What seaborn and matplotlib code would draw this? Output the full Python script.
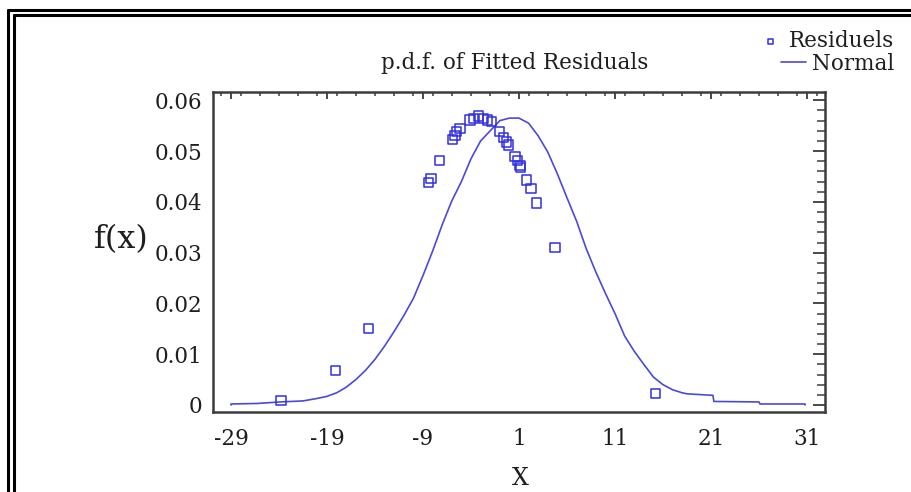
"""p.d.f. of fitted residuals vs. fitted normal curve."""
import matplotlib
matplotlib.use("Agg")
import matplotlib.pyplot as plt
from matplotlib.lines import Line2D
from matplotlib.ticker import MultipleLocator
import seaborn as sns

# Fitted normal curve (tails are stepped)
normal_x = [-29, -29, -26.3, -23.9, -21.5, -20, -19, -18, -17, -16, -15, -14, -13, -12,
            -11, -10, -9, -8, -7, -6, -5, -4, -3, -2, -1, 0, 1, 2, 3, 4, 5, 6, 7, 8,
            9, 10, 11, 12, 13, 14, 15, 16, 17, 18, 18.5, 21.2, 21.3, 26.0, 26.1, 30.8, 30.8]
normal_y = [0.0, 0.0002, 0.0003, 0.0006, 0.0008, 0.0013, 0.0017, 0.0024, 0.0035, 0.0050,
            0.0068, 0.0090, 0.0116, 0.0145, 0.0176, 0.0210, 0.0255, 0.0303, 0.0355, 0.0402,
            0.0440, 0.0485, 0.0520, 0.0540, 0.0560, 0.0565, 0.0565, 0.0555, 0.0530, 0.0498,
            0.0455, 0.0408, 0.0362, 0.0308, 0.0262, 0.0220, 0.0180, 0.0136, 0.0106, 0.0080,
            0.0055, 0.0040, 0.0030, 0.0024, 0.0022, 0.0019, 0.0007, 0.0006, 0.0002, 0.0002, 0.0]

# Empirical density of the residuals
resid_x = [-23.8, -18.1, -14.7, -8.45, -8.17, -7.3, -5.95, -5.67, -5.5, -5.15, -4.1, -3.76,
           -3.24, -2.72, -2.3, -1.84, -1.05, -0.64, -0.28, -0.11, 0.58, 0.82, 1.1, 1.18,
           1.8, 2.25, 2.84, 4.75, 15.2]
resid_y = [0.0009, 0.0068, 0.0150, 0.0438, 0.0446, 0.0481, 0.0523, 0.0531, 0.0538, 0.0545,
           0.0561, 0.0564, 0.0569, 0.0564, 0.0561, 0.0558, 0.0538, 0.0527, 0.0518, 0.0512,
           0.0490, 0.0482, 0.0472, 0.0468, 0.0443, 0.0427, 0.0398, 0.0310, 0.0023]

x_ticks = [-29, -19, -9, 1, 11, 21, 31]
y_ticks = [0, 0.01, 0.02, 0.03, 0.04, 0.05, 0.06]
y_tick_labels = ["0", "0.01", "0.02", "0.03", "0.04", "0.05", "0.06"]

BLUE_LINE = "#4a4ad6"
BLUE_MARK = "#2f2fe0"
SPINE = "#3c3c3c"
TEXT = "#1e1e1e"

sns.set_style("white")
plt.rcParams["font.family"] = ["DejaVu Serif"]

W, H = 911, 492
fig = plt.figure(figsize=(W / 100, H / 100), dpi=100)
ax = fig.add_axes([213 / W, 1 - 411.7 / H, 612 / W, 320 / H])

sns.lineplot(x=normal_x, y=normal_y, sort=False, estimator=None, ax=ax,
             color=BLUE_LINE, linewidth=1.2, label="Normal", zorder=2)
sns.scatterplot(x=resid_x, y=resid_y, ax=ax, marker="s", s=45,
                facecolor="none", edgecolor=BLUE_MARK, linewidth=1.1,
                label="Residuels", zorder=3)

ax.set_xlim(-30.875, 32.875)
ax.set_ylim(-0.00132, 0.0617)
ax.set_xticks(x_ticks)
ax.set_xticklabels([str(t) for t in x_ticks])
ax.set_yticks(y_ticks)
ax.set_yticklabels(y_tick_labels)
ax.xaxis.set_minor_locator(MultipleLocator(2))
ax.yaxis.set_minor_locator(MultipleLocator(0.002))

ax.tick_params(axis="both", which="both", direction="in", colors=SPINE,
               top=True, right=True, labelsize=15.5, labelcolor=TEXT)
ax.tick_params(axis="x", which="major", length=5, width=1.3, pad=12)
ax.tick_params(axis="x", which="minor", length=3, width=1.1)
ax.tick_params(axis="y", which="major", length=9, width=1.3, pad=8)
ax.tick_params(axis="y", which="minor", length=6, width=1.1)
for sp in ax.spines.values():
    sp.set_visible(True)
    sp.set_color(SPINE)
    sp.set_linewidth(1.8)

ax.set_xlabel("X", fontsize=17, color=TEXT)
ax.xaxis.label.set_va("baseline")
ax.xaxis.set_label_coords(0.5016, -0.229)
ax.set_ylabel("f(x)", fontsize=23, rotation=0, color=TEXT, ha="center", va="center")
ax.yaxis.set_label_coords(-0.150, 0.537)

fig.text(515 / W, 1 - 63 / H, "p.d.f. of Fitted Residuals", fontsize=15.5,
         ha="center", va="center", color=TEXT)

# two right-aligned legend rows, as in the original
handles, labels = ax.get_legend_handles_labels()
ax.get_legend().remove()
rows = [("Residuels", 1 - 30 / H), ("Normal", 1 - 53 / H)]
legs = []
for name, top in rows:
    h = handles[labels.index(name)]
    leg = ax.legend([h], [name], loc="upper right", bbox_to_anchor=(894 / W, top),
                    bbox_transform=fig.transFigure, frameon=False, fontsize=15.5,
                    handlelength=1.2, handletextpad=0.25, borderpad=0, borderaxespad=0,
                    markerscale=0.55, labelcolor=TEXT)
    legs.append(leg)
ax.add_artist(legs[0])

# double frame around the picture (top and left edges are visible)
for off, lw in ((8.0, 2.2), (13.5, 2.2)):
    fig.add_artist(Line2D([off / W, off / W], [0, 1 - (off + 1.5) / H],
                          transform=fig.transFigure, color="black", linewidth=lw))
    fig.add_artist(Line2D([off / W, 1], [1 - (off + 1.5) / H, 1 - (off + 1.5) / H],
                          transform=fig.transFigure, color="black", linewidth=lw))

fig.savefig("out.png", dpi=100, facecolor="white")
